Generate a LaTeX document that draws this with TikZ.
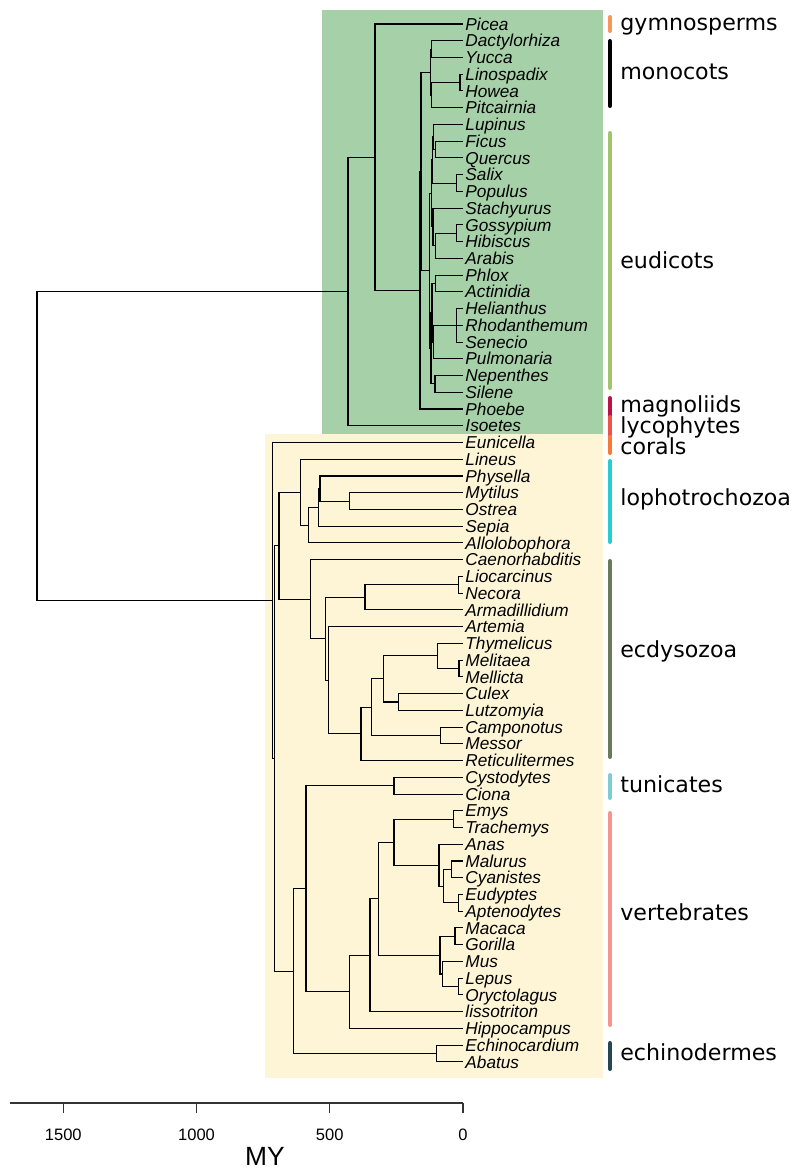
\documentclass[tikz,border=0pt]{standalone}
\usepackage{fontspec}
\setmainfont{Liberation Sans}
\newfontfamily\cladefont{DejaVu Sans}

\definecolor{bgplant}{RGB}{166,208,168}
\definecolor{bganimal}{RGB}{253,245,214}
\definecolor{cgym}{RGB}{247,152,88}
\definecolor{cmono}{RGB}{0,0,0}
\definecolor{ceudi}{RGB}{160,197,110}
\definecolor{cmagn}{RGB}{185,20,70}
\definecolor{clyco}{RGB}{235,85,75}
\definecolor{ccoral}{RGB}{247,120,55}
\definecolor{clopho}{RGB}{40,205,210}
\definecolor{cecdy}{RGB}{105,122,90}
\definecolor{ctunic}{RGB}{125,205,210}
\definecolor{cvert}{RGB}{245,150,140}
\definecolor{cechin}{RGB}{40,70,80}

\begin{document}
\begin{tikzpicture}[x=0.02cm, y=-0.02cm,
  taxon/.style={anchor=west, inner xsep=1.2pt, inner ysep=0pt,
                text height=7pt, text depth=0pt,
                font=\itshape\fontsize{9.8}{11}\selectfont},
  br/.style={line width=0.6pt, black},
  axis/.style={line width=0.6pt, black!80},
  cladebar/.style={line width=2.5pt, line cap=round},
  cladelab/.style={anchor=base west, inner sep=0pt,
                   font=\cladefont\fontsize{12.6}{15}\selectfont},
  ticklab/.style={anchor=base, inner sep=0pt, font=\fontsize{9.4}{11}\selectfont}]

\useasboundingbox (0,0) rectangle (799,1169);

% shaded blocks: plants above, animals below
\fill[bgplant] (322,10) rectangle (603,434);
\fill[bganimal] (265,434) rectangle (603,1078);

% the tips, all at time zero
\foreach \tx [count=\i from 0] in {Picea, Dactylorhiza, Yucca, Linospadix, Howea,
    Pitcairnia, Lupinus, Ficus, Quercus, Salix, Populus, Stachyurus, Gossypium,
    Hibiscus, Arabis, Phlox, Actinidia, Helianthus, Rhodanthemum, Senecio,
    Pulmonaria, Nepenthes, Silene, Phoebe, Isoetes, Eunicella, Lineus, Physella,
    Mytilus, Ostrea, Sepia, Allolobophora, Caenorhabditis, Liocarcinus, Necora,
    Armadillidium, Artemia, Thymelicus, Melitaea, Mellicta, Culex, Lutzomyia,
    Camponotus, Messor, Reticulitermes, Cystodytes, Ciona, Emys, Trachemys, Anas,
    Malurus, Cyanistes, Eudyptes, Aptenodytes, Macaca, Gorilla, Mus, Lepus,
    Oryctolagus, lissotriton, Hippocampus, Echinocardium, Abatus}
  \node[taxon] (\tx) at (463,{24+16.74*\i}) {\tx};

% inner nodes (x = age, y = mean of the children)
\foreach \n/\x/\y in {root/37/445.96,
    vasc/348/291.45, seed/375/157.14, angio/420/290.27, mesang/421/171.52,
    mono/430.5/72.13, monoa/431.5/49.11, monob/431.5/95.15, palms/460/82.59,
    eudi/429.3/270.92, ros/431.7/193.49, rosa/432.7/160.01, fab/433.3/137.0,
    fagal/435.7/149.55, salic/456.7/183.03, rosb/433/226.97, malvid/435.7/245.81,
    malv/456.7/233.25, core/431/348.34, aster/432/312.77, erical/435.7/283.47,
    campan/433.3/342.06, compos/456.7/325.32, caryo/435/383.91,
    metaz/272.3/600.46, bilat/274.5/758.42, proto/279/545.72,
    lopho/300.7/492.20, lophoa/308.3/525.15, lophob/318.3/507.37,
    lophoc/320/488.54, biv/349.3/501.09,
    ecdy/310.7/599.24, arthr/325.7/638.80, crust/365/597.35, crab/458.3/584.79,
    pancr/328.3/680.26, insec/361/733.88, holom/371.7/707.20, antl/383.3/678.95,
    lepid/437.3/655.94, melit/459/668.49, dipt/398.3/701.97, hymen/440.7/735.45,
    deut/293.3/971.12, chord/306/888.73, tunic/394/785.67, vert/349.3/991.78,
    tetra/370/955.17, amnio/378.3/898.67, saur/394/842.17, turt/453.3/819.15,
    aves/439/865.19, avesa/443.3/886.11, passer/451.7/869.37, pengu/458.3/902.85,
    mamm/440/955.17, prim/455/936.33, glir/442.3/974.00, lago/458.3/986.55,
    echin/436.7/1053.51}
  \coordinate (\n) at (\x,\y);

% branches
\foreach \a/\b in {root/vasc, root/metaz,
    vasc/seed, vasc/Isoetes, seed/Picea, seed/angio, angio/mesang, angio/Phoebe,
    mesang/mono, mesang/eudi, mono/monoa, mono/monob, monoa/Dactylorhiza,
    monoa/Yucca, monob/palms, monob/Pitcairnia, palms/Linospadix, palms/Howea,
    eudi/ros, eudi/core, ros/rosa, ros/rosb, rosa/fab, rosa/salic, fab/Lupinus,
    fab/fagal, fagal/Ficus, fagal/Quercus, salic/Salix, salic/Populus,
    rosb/Stachyurus, rosb/malvid, malvid/malv, malvid/Arabis, malv/Gossypium,
    malv/Hibiscus, core/aster, core/caryo, aster/erical, aster/campan,
    erical/Phlox, erical/Actinidia, campan/compos, campan/Pulmonaria,
    compos/Helianthus, compos/Rhodanthemum, compos/Senecio, caryo/Nepenthes,
    caryo/Silene,
    metaz/Eunicella, metaz/bilat, bilat/proto, bilat/deut, proto/lopho,
    proto/ecdy, lopho/Lineus, lopho/lophoa, lophoa/lophob, lophoa/Allolobophora,
    lophob/lophoc, lophob/Sepia, lophoc/Physella, lophoc/biv, biv/Mytilus,
    biv/Ostrea, ecdy/Caenorhabditis, ecdy/arthr, arthr/crust, arthr/pancr,
    crust/crab, crust/Armadillidium, crab/Liocarcinus, crab/Necora,
    pancr/Artemia, pancr/insec, insec/holom, insec/Reticulitermes, holom/antl,
    holom/hymen, antl/lepid, antl/dipt, lepid/Thymelicus, lepid/melit,
    melit/Melitaea, melit/Mellicta, dipt/Culex, dipt/Lutzomyia,
    hymen/Camponotus, hymen/Messor,
    deut/chord, deut/echin, chord/tunic, chord/vert, tunic/Cystodytes,
    tunic/Ciona, vert/tetra, vert/Hippocampus, tetra/amnio, tetra/lissotriton,
    amnio/saur, amnio/mamm, saur/turt, saur/aves, turt/Emys, turt/Trachemys,
    aves/Anas, aves/avesa, avesa/passer, avesa/pengu, passer/Malurus,
    passer/Cyanistes, pengu/Eudyptes, pengu/Aptenodytes, mamm/prim, mamm/glir,
    prim/Macaca, prim/Gorilla, glir/Mus, glir/lago, lago/Lepus,
    lago/Oryctolagus, echin/Echinocardium, echin/Abatus}
  \draw[br] (\a) |- (\b);

% clade bars and their names (last field: baseline of the name)
\foreach \ya/\yb/\col/\lab/\yl in {15/33/cgym/gymnosperms/31,
    39/108/cmono/monocots/79.5, 131/390/ceudi/eudicots/268.5,
    396/418/cmagn/magnoliids/412, 415/437/clyco/lycophytes/433.5,
    435/455/ccoral/corals/454, 459/544/clopho/lophotrochozoa/505.5,
    559/759/cecdy/ecdysozoa/657, 773/800/ctunic/tunicates/792.5,
    811/1027/cvert/vertebrates/920, 1041/1071/cechin/echinodermes/1060} {
  \draw[cladebar, \col] (610,{\ya+2.2}) -- (610,{\yb-2.2});
  \node[cladelab] (lab-\lab) at (620,\yl) {\lab};
}

% time axis
\draw[axis] (10,1103) -- (463,1103);
\foreach \t in {0,500,1000,1500} {
  \draw[axis] ({463-0.2665*\t},1103) -- ++(0,10);
  \node[ticklab] (tick\t) at ({463-0.2665*\t},1140) {\t};
}
\node[anchor=base, inner sep=0pt, font=\fontsize{15}{17}\selectfont] (mylab)
  at (265,1165.5) {MY};
\end{tikzpicture}
\end{document}
